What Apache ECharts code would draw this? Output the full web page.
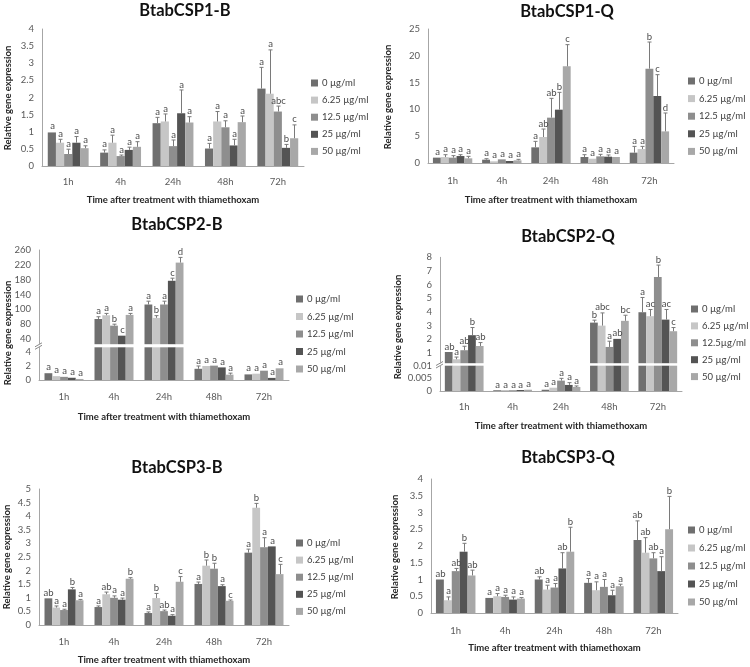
<!DOCTYPE html>
<html><head><meta charset="utf-8">
<script src="https://cdn.jsdelivr.net/npm/echarts@6/dist/echarts.min.js"></script>
<style>html,body{margin:0;padding:0;background:#fff}#c{width:750px;height:667px}</style>
</head><body><div id="c"></div>
<script>
// ---------- data ----------
const categories = ['1h', '4h', '24h', '48h', '72h'];
const doseNames = ['0 µg/ml', '6.25 µg/ml', '12.5 µg/ml', '25 µg/ml', '50 µg/ml'];
const doseNamesCSP2Q = ['0 µg/ml', '6.25 µg/ml', '12.5µg/ml', '25 µg/ml', '50 µg/ml'];
const xAxisTitle = 'Time after treatment with thiamethoxam';
const yAxisTitle = 'Relative gene expression';

// rows = dose (0, 6.25, 12.5, 25, 50), columns = time (1h, 4h, 24h, 48h, 72h)
const csp1B_mean = [[0.98,0.39,1.25,0.51,2.26],[0.68,0.68,1.30,1.30,2.11],[0.35,0.29,0.58,1.13,1.59],[0.68,0.47,1.54,0.60,0.53],[0.52,0.56,1.27,1.28,0.81]];
const csp1B_err  = [[1.00,0.47,1.42,0.66,2.88],[0.78,0.90,1.52,1.59,3.39],[0.49,0.32,0.76,1.32,1.75],[0.86,0.55,2.22,0.78,0.63],[0.59,0.71,1.44,1.46,1.20]];
const csp1B_sig  = [['a','a','a','a','a'],['a','a','a','a','a'],['a','a','a','a','abc'],['a','a','a','a','b'],['a','a','a','a','c']];

const csp1Q_mean = [[1.00,0.62,2.92,1.12,1.93],[1.10,0.31,4.85,0.80,2.60],[1.00,0.68,8.46,1.24,17.6],[1.30,0.37,9.95,1.18,12.5],[0.87,0.50,18.03,1.12,5.90]];
const csp1Q_err  = [[1.00,0.80,4.04,1.55,3.10],[1.55,0.40,6.34,0.90,3.10],[1.37,0.75,12.06,1.62,22.57],[1.55,0.40,13.18,1.50,16.48],[1.24,0.68,22.08,1.20,9.33]];
const csp1Q_sig  = [['a','a','a','a','a'],['a','a','ab','a','a'],['a','a','ab','a','b'],['a','a','b','a','c'],['a','a','c','a','d']];

const csp2B_mean = [[0.97,74,113,1.60,0.80],[0.55,84,77,2.00,0.90],[0.45,56,113,2.05,1.33],[0.32,29,177,1.80,0.30],[0.15,85,226,0.76,1.67]];
const csp2B_err  = [[1.05,80,122,2.00,0.90],[0.60,89,83,2.10,0.95],[0.50,60,122,2.12,1.40],[0.36,30,184,1.85,0.35],[0.18,89,240,0.98,1.75]];
const csp2B_sig  = [['a','a','a','a','a'],['a','a','b','a','a'],['a','b','a','a','a'],['a','c','c','a','a'],['a','a','d','a','a']];
const csp2B_upperTickValues = [20, 60, 100, 140, 180, 220, 260];
const csp2B_upperTickLabels = ['40', '80', '100', '140', '180', '220', '260'];
const csp2B_lowerTickValues = [0, 2, 4];

const csp2Q_mean = [[1.07,0.0003,0.0005,3.22,3.98],[0.54,0.0004,0.0013,3.00,3.69],[1.20,0.0003,0.0041,1.44,6.55],[2.30,0.0004,0.0024,2.03,3.44],[1.51,0.0005,0.0016,3.35,2.59]];
const csp2Q_err  = [[1.07,0.0003,0.0005,3.40,5.06],[0.70,0.0004,0.0013,3.93,4.18],[1.49,0.0003,0.0050,1.86,7.43],[2.86,0.0004,0.0033,2.05,4.18],[1.76,0.0005,0.0020,3.76,2.86]];
const csp2Q_sig  = [['ab','a','a','b','a'],['a','a','a','abc','ac'],['ab','a','a','a','b'],['b','a','a','ab','ac'],['ab','a','a','bc','c']];
const csp2Q_upperTickValues = [1, 2, 3, 4, 5, 6, 7, 8];
const csp2Q_lowerTickValues = [0, 0.005, 0.01];

const csp3B_mean = [[0.98,0.66,0.44,1.51,2.66],[0.64,1.13,0.99,2.18,4.31],[0.55,1.00,0.51,2.07,2.86],[1.31,0.93,0.34,1.43,2.89],[0.91,1.70,1.59,0.89,1.87]];
const csp3B_err  = [[0.98,0.70,0.48,1.58,2.79],[0.70,1.21,1.16,2.39,4.47],[0.58,1.07,0.55,2.27,3.21],[1.38,0.99,0.38,1.48,2.90],[0.94,1.74,1.78,0.92,2.23]];
const csp3B_sig  = [['ab','a','a','a','a'],['a','ab','b','b','b'],['a','a','ab','b','a'],['b','a','a','a','a'],['a','b','c','c','c']];

const csp3Q_mean = [[1.00,0.45,1.00,0.90,2.18],[0.38,0.50,0.70,0.68,1.80],[1.25,0.48,0.76,0.78,1.63],[1.83,0.40,1.33,0.53,1.25],[1.12,0.43,1.83,0.80,2.50]];
const csp3Q_err  = [[1.00,0.45,1.08,1.03,2.75],[0.48,0.58,0.83,0.93,2.25],[1.33,0.53,0.88,1.00,1.80],[2.08,0.48,1.80,0.68,1.68],[1.28,0.46,2.56,0.86,3.48]];
const csp3Q_sig  = [['ab','a','ab','a','ab'],['a','a','a','a','ab'],['ab','a','a','a','ab'],['b','a','ab','a','a'],['ab','a','b','a','b']];

// ---------- styling / layout ----------
const FONT = 'Lato, "Open Sans", sans-serif';
const colors = ['#6f6f6f', '#c6c6c6', '#8e8e8e', '#545454', '#a8a8a8'];
const AXIS_COLOR = '#a6a6a6';
const LABEL_COLOR = '#595959';

const panels = [
  { title: 'BtabCSP1-B', tx: 185, ty: 11, mean: csp1B_mean, err: csp1B_err, sig: csp1B_sig, names: doseNames,
    left: 42, width: 262, gap: '22%', labelMargin: 11, nameGap: 29, ynx: 8, yny: 98,
    legend: { left: 311, top: 77, gap: 5.1 },
    grids: [{ top: 29, bottom: 166, min: 0, max: 4, interval: 0.5 }] },
  { title: 'BtabCSP1-Q', tx: 567, ty: 12, mean: csp1Q_mean, err: csp1Q_err, sig: csp1Q_sig, names: doseNames,
    left: 428, width: 246, gap: '20%', labelMargin: 13, nameGap: 32, ynx: 388, yny: 97,
    legend: { left: 688, top: 75, gap: 5.6 },
    grids: [{ top: 29, bottom: 163, min: 0, max: 25, interval: 5 }] },
  { title: 'BtabCSP2-B', tx: 177, ty: 225, mean: csp2B_mean, err: csp2B_err, sig: csp2B_sig, names: doseNames,
    left: 39, width: 250, gap: '22%', labelMargin: 12, nameGap: 32, ynx: 8, yny: 333,
    legend: { left: 296, top: 293, gap: 5.5 },
    brk: { x: 39, y: 345.8 },
    grids: [
      { top: 250, bottom: 344.2, min: 6, max: 260, ticks: csp2B_upperTickValues, labels: csp2B_upperTickLabels },
      { top: 347.3, bottom: 380, min: 0, max: 4.67, ticks: csp2B_lowerTickValues }
    ] },
  { title: 'BtabCSP2-Q', tx: 568, ty: 237, mean: csp2Q_mean, err: csp2Q_err, sig: csp2Q_sig, names: doseNamesCSP2Q,
    left: 440, width: 242, gap: '20%', labelMargin: 11, nameGap: 30, ynx: 398, yny: 327,
    legend: { left: 691, top: 303, gap: 4.9 },
    brk: { x: 440, y: 364.5 },
    grids: [
      { top: 257.3, bottom: 363.2, min: 0.25, max: 8, ticks: csp2Q_upperTickValues },
      { top: 365.7, bottom: 391, min: 0, max: 0.01, ticks: csp2Q_lowerTickValues }
    ] },
  { title: 'BtabCSP3-B', tx: 177, ty: 468, mean: csp3B_mean, err: csp3B_err, sig: csp3B_sig, names: doseNames,
    left: 39, width: 250, gap: '22%', labelMargin: 12, nameGap: 30, ynx: 7, yny: 557,
    legend: { left: 296, top: 537, gap: 5.1 },
    grids: [{ top: 489, bottom: 625, min: 0, max: 5, interval: 0.5 }] },
  { title: 'BtabCSP3-Q', tx: 568, ty: 458, mean: csp3Q_mean, err: csp3Q_err, sig: csp3Q_sig, names: doseNames,
    left: 431, width: 247, gap: '20%', labelMargin: 13, nameGap: 30, ynx: 395, yny: 547,
    legend: { left: 688, top: 524, gap: 6 },
    grids: [{ top: 479, bottom: 613, min: 0, max: 4, interval: 0.5 }] }
];

function makeRender(p, g, letters) {
  const gapFrac = parseFloat(p.gap) / 100;
  return function (params, api) {
    const t = api.value(0), d = api.value(1), m = api.value(2), e = api.value(3);
    if (m < g.min || m > g.max) return null;
    const band = api.size([1, 0])[0];
    const bw = band * (1 - gapFrac) / 5;
    const cx = Math.round(api.coord([t, g.min])[0] + (d - 2) * bw) + 0.5;
    const yb = api.coord([t, m])[1];
    const ye = api.coord([t, e])[1];
    const children = [];
    if (ye < yb - 0.8) {
      children.push({ type: 'line', shape: { x1: cx, y1: yb, x2: cx, y2: ye }, style: { stroke: '#7a7a7a', lineWidth: 1 } });
      children.push({ type: 'line', shape: { x1: cx - 2, y1: ye, x2: cx + 2, y2: ye }, style: { stroke: '#7a7a7a', lineWidth: 1 } });
    }
    children.push({ type: 'text', x: cx, y: Math.min(ye, yb) - 0.5,
      style: { text: letters[params.dataIndex], fill: '#4d4d4d', fontSize: 9.5, fontFamily: FONT, align: 'center', verticalAlign: 'bottom' } });
    return { type: 'group', children: children };
  };
}

const option = { animation: false, backgroundColor: '#fff', grid: [], xAxis: [], yAxis: [], series: [], legend: [], graphic: [] };

panels.forEach(function (p) {
  // title
  option.graphic.push({ type: 'text', x: p.tx, y: p.ty, style: { text: p.title, fill: '#111', fontSize: 16.5, fontWeight: 'bold', fontFamily: FONT, align: 'center', verticalAlign: 'middle' } });
  // y axis title
  option.graphic.push({ type: 'text', x: p.ynx, y: p.yny, rotation: Math.PI / 2, style: { text: yAxisTitle, fill: '#262626', fontSize: 9.5, fontWeight: 'bold', fontFamily: FONT, align: 'center', verticalAlign: 'middle' } });
  if (p.brk) {
    option.graphic.push({ type: 'line', shape: { x1: p.brk.x - 4, y1: p.brk.y + 1, x2: p.brk.x + 3, y2: p.brk.y - 3 }, style: { stroke: '#8a8a8a', lineWidth: 1 } });
    option.graphic.push({ type: 'line', shape: { x1: p.brk.x - 4, y1: p.brk.y + 3.5, x2: p.brk.x + 3, y2: p.brk.y - 0.5 }, style: { stroke: '#8a8a8a', lineWidth: 1 } });
  }
  option.legend.push({
    data: p.names, orient: 'vertical', left: p.legend.left, top: p.legend.top, itemGap: p.legend.gap,
    itemWidth: 7, itemHeight: 7, icon: 'rect', padding: 0, selectedMode: false,
    textStyle: { fontSize: 9.5, color: '#404040', fontFamily: FONT, lineHeight: 12, padding: [0, 0, 0, -1] }
  });

  p.grids.forEach(function (g, gi) {
    const idx = option.grid.length;
    const isBottom = gi === p.grids.length - 1;
    option.grid.push({ left: p.left, top: g.top, width: p.width, height: g.bottom - g.top });
    option.xAxis.push({
      type: 'category', gridIndex: idx, data: categories,
      axisLine: { show: isBottom, lineStyle: { color: AXIS_COLOR } }, axisTick: { show: false },
      axisLabel: { show: isBottom, color: LABEL_COLOR, fontSize: 9.5, fontFamily: FONT, margin: p.labelMargin },
      name: isBottom ? xAxisTitle : '', nameLocation: 'middle', nameGap: p.nameGap,
      nameTextStyle: { color: '#262626', fontSize: 9.5, fontWeight: 'bold', fontFamily: FONT }
    });
    const yAx = {
      type: 'value', gridIndex: idx, min: g.min, max: g.max, splitLine: { show: false },
      axisLine: { show: true, lineStyle: { color: AXIS_COLOR } }, axisTick: { show: false },
      axisLabel: { color: LABEL_COLOR, fontSize: 9.5, fontFamily: FONT, margin: 8 }
    };
    if (g.interval) yAx.interval = g.interval;
    if (g.ticks) {
      yAx.axisLabel.customValues = g.ticks;
      yAx.axisTick.customValues = g.ticks;
      if (g.labels) {
        const tv = g.ticks, tl = g.labels;
        yAx.axisLabel.formatter = function (v) { const k = tv.indexOf(v); return k >= 0 ? tl[k] : ''; };
      } else {
        yAx.axisLabel.formatter = function (v) { return String(v); };
      }
    }
    option.yAxis.push(yAx);

    for (let d = 0; d < 5; d++) {
      option.series.push({
        type: 'bar', name: p.names[d], xAxisIndex: idx, yAxisIndex: idx, data: p.mean[d],
        itemStyle: { color: colors[d] }, barGap: '0%', barCategoryGap: p.gap, clip: true, silent: true
      });
    }
    const flat = [], letters = [];
    for (let d = 0; d < 5; d++) {
      for (let t = 0; t < 5; t++) {
        flat.push([t, d, p.mean[d][t], p.err[d][t]]);
        letters.push(p.sig[d][t]);
      }
    }
    option.series.push({
      type: 'custom', name: 'err', xAxisIndex: idx, yAxisIndex: idx, data: flat,
      encode: { x: 0, y: 3 }, renderItem: makeRender(p, g, letters), silent: true, z: 5, clip: false
    });
  });
});

const chart = echarts.init(document.getElementById('c'), null, { renderer: 'canvas' });
chart.setOption(option);
</script>
</body></html>
